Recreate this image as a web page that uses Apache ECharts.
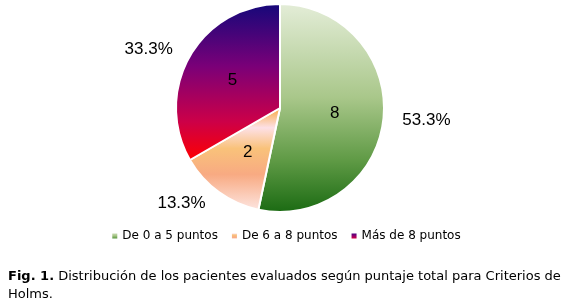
<!DOCTYPE html>
<html>
<head>
<meta charset="utf-8">
<script src="https://cdn.jsdelivr.net/npm/echarts@6/dist/echarts.min.js"></script>
<style>
html,body{margin:0;padding:0;background:#fff;}
#c{width:571px;height:304px;}
</style>
</head>
<body>
<div id="c"></div>
<script>
const categories = ['De 0 a 5 puntos', 'De 6 a 8 puntos', 'Más de 8 puntos'];
const counts = [8, 2, 5];
const captionBold = 'Fig. 1.';
const captionLine1 = ' Distribución de los pacientes evaluados según puntaje total para Criterios de';
const captionLine2 = 'Holms.';

function vgrad(stops) {
  return new echarts.graphic.LinearGradient(0, 0, 0, 1,
    stops.map(s => ({ offset: s[0], color: s[1] })));
}
const fills = [
  vgrad([[0, '#e4edd8'], [0.45, '#a9c78a'], [0.75, '#5f9a45'], [1, '#1a6a12']]),
  vgrad([[0, '#f8a83a'], [0.2, '#fde0e6'], [0.4, '#f9c27a'], [0.65, '#f8aa82'], [1, '#fde6e2']]),
  vgrad([[0, '#14087a'], [0.4, '#7a0078'], [0.75, '#cc0048'], [1, '#ff0000']])
];

const total = counts.reduce((a, b) => a + b, 0);
const pieData = categories.map((n, i) => ({ name: n, value: counts[i], itemStyle: { color: fills[i] } }));
const ghostData = categories.map((n, i) => ({ name: n, value: counts[i] }));

const chart = echarts.init(document.getElementById('c'), null, { renderer: 'canvas' });
chart.setOption({
  animation: false,
  backgroundColor: '#fff',
  title: {
    left: 3, top: 263,
    text: '{b|' + captionBold + '}{n|' + captionLine1 + '}\n{n|' + captionLine2 + '}',
    textStyle: {
      fontWeight: 'normal', fontFamily: 'DejaVu Sans', fontSize: 13, color: '#000',
      rich: {
        b: { fontFamily: 'DejaVu Sans', fontSize: 13, fontWeight: 'bold', color: '#000', lineHeight: 18 },
        n: { fontFamily: 'DejaVu Sans', fontSize: 13, fontWeight: 'normal', color: '#000', lineHeight: 18 }
      }
    }
  },
  legend: {
    top: 225, left: 'center',
    itemWidth: 7, itemHeight: 7, itemGap: 12,
    icon: 'rect',
    data: categories,
    textStyle: { fontFamily: 'DejaVu Sans', fontSize: 12, color: '#000', padding: [0, 0, 0, -1] }
  },
  series: [
    {
      type: 'pie',
      center: [280, 108],
      radius: [0, 104],
      startAngle: 90,
      clockwise: true,
      avoidLabelOverlap: false,
      data: pieData,
      itemStyle: { borderColor: '#fff', borderWidth: 2 },
      label: {
        show: true, position: 'inside', formatter: '{c}',
        fontFamily: 'Liberation Sans', fontSize: 17, color: '#000'
      },
      labelLine: { show: false },
      emphasis: { disabled: true }
    },
    {
      type: 'pie',
      center: [280, 108],
      radius: [0, 104],
      startAngle: 90,
      clockwise: true,
      silent: true,
      legendHoverLink: false,
      avoidLabelOverlap: false,
      data: ghostData,
      itemStyle: { color: 'rgba(0,0,0,0)', borderWidth: 0 },
      label: {
        show: true, position: 'outside',
        formatter: p => (p.value / total * 100).toFixed(1) + '%',
        fontFamily: 'Liberation Sans', fontSize: 17, color: '#000'
      },
      labelLine: { show: false, length: 14, length2: 0 },
      emphasis: { disabled: true }
    }
  ]
});
</script>
</body>
</html>
